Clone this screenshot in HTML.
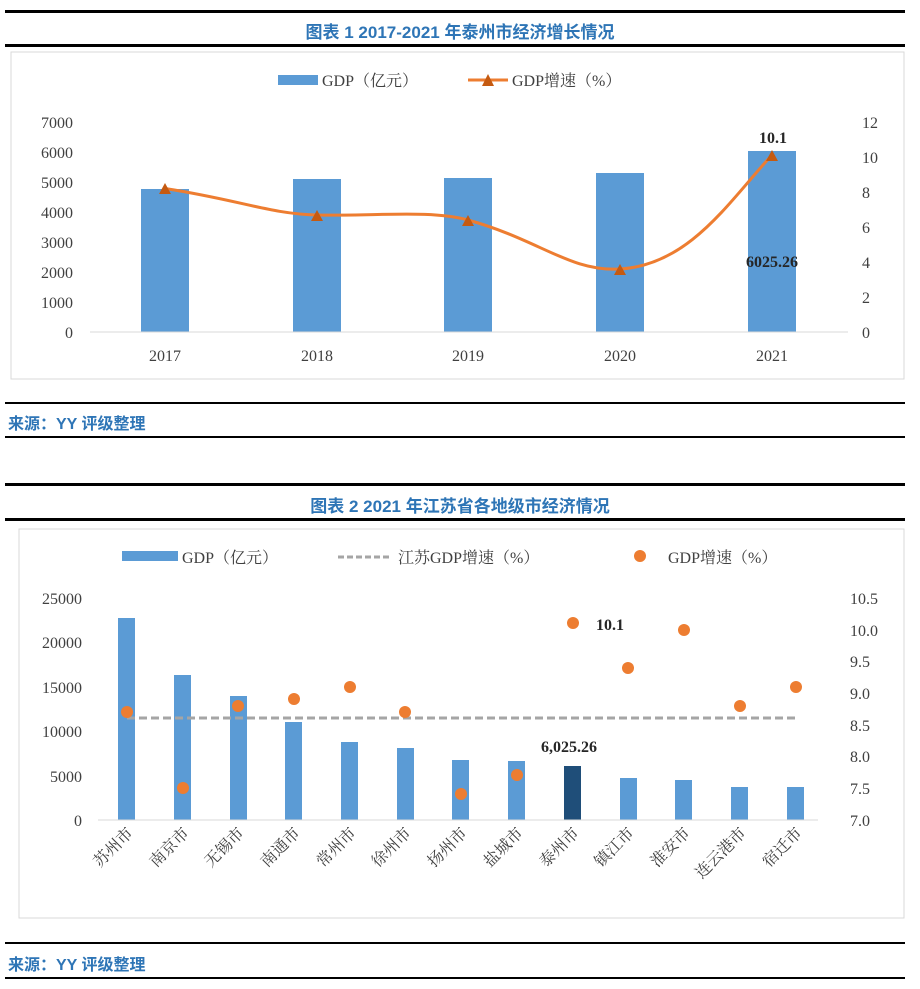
<!DOCTYPE html><html><head><meta charset="utf-8"><style>
body{margin:0;width:920px;height:989px;background:#fff;position:relative;font-family:"Liberation Serif","Noto Serif CJK SC",serif;overflow:hidden}
.r{position:absolute;left:5px;width:900px;background:#000}
.t{position:absolute;left:0;width:920px;text-align:center;font:bold 17px "Liberation Sans","Noto Sans CJK SC",sans-serif;color:#2e75b6}
.s{position:absolute;left:8px;font:bold 16px "Liberation Sans","Noto Sans CJK SC",sans-serif;color:#2e75b6}
svg{position:absolute;left:0;top:0}
</style></head><body>
<div class="r" style="top:10px;height:3px"></div>
<div class="t" style="top:18px">图表 1 2017-2021 年泰州市经济增长情况</div>
<div class="r" style="top:44px;height:3px"></div>
<div class="r" style="top:402px;height:2px"></div>
<div class="s" style="top:410px">来源：YY 评级整理</div>
<div class="r" style="top:436px;height:2px"></div>
<div class="r" style="top:483px;height:3px"></div>
<div class="t" style="top:492px">图表 2 2021 年江苏省各地级市经济情况</div>
<div class="r" style="top:518px;height:3px"></div>
<div class="r" style="top:942px;height:2px"></div>
<div class="s" style="top:951px">来源：YY 评级整理</div>
<div class="r" style="top:977px;height:2px"></div>
<svg width="920" height="989" font-family="Liberation Serif,Noto Serif CJK SC,serif" font-size="16" fill="#404040">
<rect x="11" y="52" width="893" height="327" fill="none" stroke="#d9d9d9"/>
<rect x="278" y="75" width="40" height="10" fill="#5b9bd5"/><text x="322" y="86">GDP（亿元）</text>
<line x1="468" y1="80" x2="508" y2="80" stroke="#ed7d31" stroke-width="3"/><path d="M482,86 L488,74 L494,86Z" fill="#c55a11"/><text x="512" y="86">GDP增速（%）</text>
<g text-anchor="end"><text x="73" y="128">7000</text><text x="73" y="158">6000</text><text x="73" y="188">5000</text><text x="73" y="218">4000</text><text x="73" y="248">3000</text><text x="73" y="278">2000</text><text x="73" y="308">1000</text><text x="73" y="338">0</text></g>
<g><text x="862" y="128">12</text><text x="862" y="163">10</text><text x="862" y="198">8</text><text x="862" y="233">6</text><text x="862" y="268">4</text><text x="862" y="303">2</text><text x="862" y="338">0</text></g>
<g fill="#5b9bd5"><rect x="141" y="189" width="48" height="143"/><rect x="293" y="179" width="48" height="153"/><rect x="444" y="178" width="48" height="154"/><rect x="596" y="173" width="48" height="159"/><rect x="748" y="151" width="48" height="181"/></g>
<line x1="90" y1="332" x2="848" y2="332" stroke="#d9d9d9"/>
<g text-anchor="middle"><text x="165" y="361">2017</text><text x="317" y="361">2018</text><text x="468" y="361">2019</text><text x="620" y="361">2020</text><text x="772" y="361">2021</text></g>
<path d="M165,188.5 C240,200 270,214 317,215 C380,216 430,210 468,220 C540,240 570,272 620,269 C690,265 730,200 772,155" fill="none" stroke="#ed7d31" stroke-width="3"/>
<g fill="#c55a11"><path d="M159,194 L165,183 L171,194Z"/><path d="M311,221 L317,210 L323,221Z"/><path d="M462,226 L468,215 L474,226Z"/><path d="M614,275 L620,264 L626,275Z"/><path d="M766,161 L772,150 L778,161Z"/></g>
<g font-weight="bold" fill="#262626" text-anchor="middle"><text x="773" y="143">10.1</text><text x="772" y="267">6025.26</text></g>

<rect x="19" y="529" width="885" height="389" fill="none" stroke="#d9d9d9"/>
<rect x="122" y="551" width="56" height="10" fill="#5b9bd5"/><text x="182" y="563">GDP（亿元）</text>
<line x1="338" y1="557" x2="392" y2="557" stroke="#a5a5a5" stroke-width="3" stroke-dasharray="6,3"/><text x="398" y="563">江苏GDP增速（%）</text>
<circle cx="640" cy="556" r="6" fill="#ed7d31"/><text x="668" y="563">GDP增速（%）</text>
<g text-anchor="end"><text x="82" y="604">25000</text><text x="82" y="648">20000</text><text x="82" y="693">15000</text><text x="82" y="737">10000</text><text x="82" y="782">5000</text><text x="82" y="826">0</text></g>
<g><text x="850" y="604">10.5</text><text x="850" y="636">10.0</text><text x="850" y="667">9.5</text><text x="850" y="699">9.0</text><text x="850" y="731">8.5</text><text x="850" y="762">8.0</text><text x="850" y="794">7.5</text><text x="850" y="826">7.0</text></g>
<g fill="#5b9bd5"><rect x="118" y="618" width="17" height="202"/><rect x="174" y="675" width="17" height="145"/><rect x="230" y="696" width="17" height="124"/><rect x="285" y="722" width="17" height="98"/><rect x="341" y="742" width="17" height="78"/><rect x="397" y="748" width="17" height="72"/><rect x="452" y="760" width="17" height="60"/><rect x="508" y="761" width="17" height="59"/><rect x="564" y="766" width="17" height="54" fill="#1f4e79"/><rect x="620" y="778" width="17" height="42"/><rect x="675" y="780" width="17" height="40"/><rect x="731" y="787" width="17" height="33"/><rect x="787" y="787" width="17" height="33"/></g>
<line x1="98" y1="820" x2="818" y2="820" stroke="#d9d9d9"/>
<line x1="127" y1="718" x2="796" y2="718" stroke="#a5a5a5" stroke-width="3" stroke-dasharray="8,4"/>
<g fill="#ed7d31"><circle cx="127" cy="712" r="6"/><circle cx="183" cy="788" r="6"/><circle cx="238" cy="706" r="6"/><circle cx="294" cy="699" r="6"/><circle cx="350" cy="687" r="6"/><circle cx="405" cy="712" r="6"/><circle cx="461" cy="794" r="6"/><circle cx="517" cy="775" r="6"/><circle cx="573" cy="623" r="6"/><circle cx="628" cy="668" r="6"/><circle cx="684" cy="630" r="6"/><circle cx="740" cy="706" r="6"/><circle cx="796" cy="687" r="6"/></g>
<g font-weight="bold" fill="#262626"><text x="596" y="630">10.1</text><text x="541" y="752">6,025.26</text></g>
<g text-anchor="end"><text transform="translate(134,834) rotate(-45)">苏州市</text><text transform="translate(190,834) rotate(-45)">南京市</text><text transform="translate(245,834) rotate(-45)">无锡市</text><text transform="translate(301,834) rotate(-45)">南通市</text><text transform="translate(357,834) rotate(-45)">常州市</text><text transform="translate(412,834) rotate(-45)">徐州市</text><text transform="translate(468,834) rotate(-45)">扬州市</text><text transform="translate(524,834) rotate(-45)">盐城市</text><text transform="translate(580,834) rotate(-45)">泰州市</text><text transform="translate(635,834) rotate(-45)">镇江市</text><text transform="translate(691,834) rotate(-45)">淮安市</text><text transform="translate(747,834) rotate(-45)">连云港市</text><text transform="translate(803,834) rotate(-45)">宿迁市</text></g>
</svg>
</body></html>
